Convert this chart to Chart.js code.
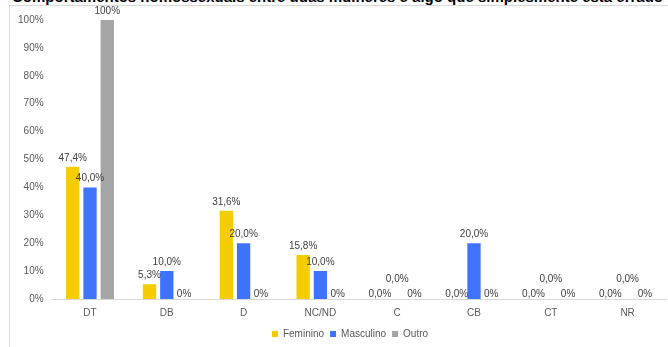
<!DOCTYPE html>
<html>
<head>
<meta charset="utf-8">
<script src="https://cdn.jsdelivr.net/npm/chart.js@4.4.1/dist/chart.umd.min.js"></script>
<style>
  html, body { margin: 0; padding: 0; background: #fff; overflow: hidden; width: 668px; height: 347px; }
  #title { position: absolute; left: 12px; top: -12px; font: bold 15px "Liberation Sans", Arial, sans-serif; color: #000; white-space: nowrap; }
  #frame { position: absolute; left: 9px; top: 5px; width: 700px; height: 400px; border: 1px solid #d9d9d9; box-sizing: border-box; }
  #wrap { position: absolute; left: 0; top: 0; width: 668px; height: 347px; }
</style>
</head>
<body>
<div id="title">Comportamentos homossexuais entre duas mulheres é algo que simplesmente está errado</div>
<div id="frame"></div>
<div id="wrap"><canvas id="c" width="668" height="347"></canvas></div>
<script>
const categories = ["DT", "DB", "D", "NC/ND", "C", "CB", "CT", "NR"];
const feminino  = [47.4, 5.3, 31.6, 15.8, 0, 0, 0, 0];
const masculino = [40.0, 10.0, 20.0, 10.0, 0, 20.0, 0, 0];
const outro     = [100, 0, 0, 0, 0, 0, 0, 0];
const seriesNames = ["Feminino", "Masculino", "Outro"];
const yTicks = [0, 10, 20, 30, 40, 50, 60, 70, 80, 90, 100];

const FONT = '"Liberation Sans", Arial, sans-serif';

const labelPlugin = {
  id: 'barLabels',
  afterLayout(chart) {
    chart.legend.left += 17;
    chart.legend.right += 17;
  },
  afterDatasetsDraw(chart) {
    const ctx = chart.ctx;
    ctx.save();
    ctx.font = '10px ' + FONT;
    ctx.fillStyle = '#404040';
    ctx.textAlign = 'center';
    ctx.textBaseline = 'middle';
    chart.data.datasets.forEach((ds, di) => {
      const meta = chart.getDatasetMeta(di);
      meta.data.forEach((bar, i) => {
        const v = ds.data[i];
        const txt = (di === 2 ? v.toFixed(0) : v.toFixed(1).replace('.', ',')) + '%';
        let y;
        if (v === 0) {
          y = bar.y - 5;
          if (di === 1) y = bar.y - 20;
        } else {
          y = bar.y - 9;
        }
        ctx.fillText(txt, bar.x, y);
      });
    });
    ctx.restore();
  }
};

new Chart(document.getElementById('c'), {
  type: 'bar',
  data: {
    labels: categories,
    datasets: [
      { label: seriesNames[0], data: feminino, backgroundColor: '#F5CC00' },
      { label: seriesNames[1], data: masculino, backgroundColor: '#3D73FF' },
      { label: seriesNames[2], data: outro, backgroundColor: '#A5A5A5' }
    ]
  },
  options: {
    responsive: false,
    animation: false,
    layout: { padding: { top: 20, right: 2, left: 0, bottom: -2 } },
    datasets: { bar: { categoryPercentage: 0.675, barPercentage: 0.77 } },
    plugins: {
      title: { display: false },
      tooltip: { enabled: false },
      legend: {
        position: 'bottom',
        labels: {
          boxWidth: 6, boxHeight: 6, padding: 6,
          color: '#595959',
          font: { size: 10, family: FONT }
        }
      }
    },
    scales: {
      x: {
        grid: { display: false, drawTicks: false },
        border: { display: true, color: '#d9d9d9' },
        ticks: { color: '#595959', font: { size: 10, family: FONT }, padding: 8 },
        afterFit(s) { s.height = 24; }
      },
      y: {
        min: 0, max: 100,
        afterBuildTicks(s) { s.ticks = yTicks.map(v => ({ value: v })); },
        grid: { display: false, drawTicks: false },
        border: { display: false },
        ticks: { color: '#595959', font: { size: 10, family: FONT }, padding: 8, callback: v => v + '%' },
        afterFit(s) { s.width = 51.6; }
      }
    }
  },
  plugins: [labelPlugin]
});
</script>
</body>
</html>
